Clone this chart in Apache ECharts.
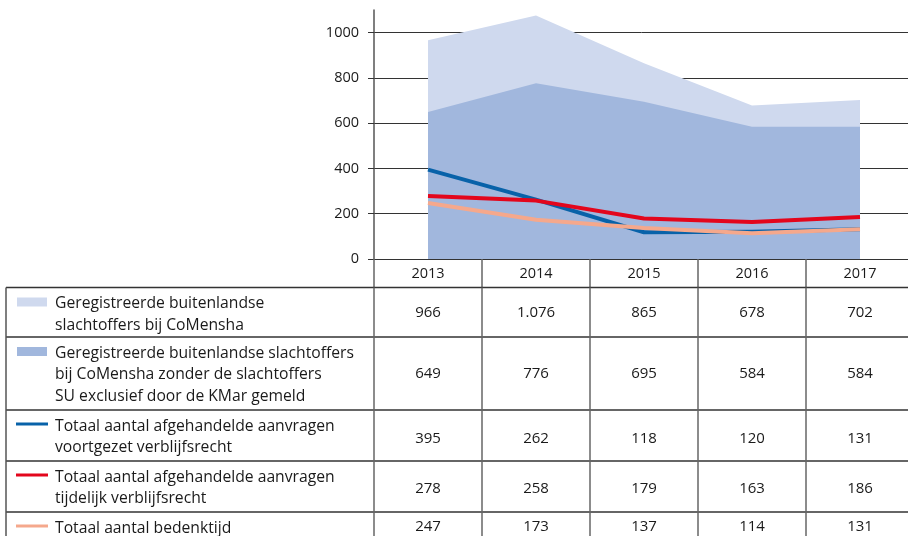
<!DOCTYPE html>
<html><head><meta charset="utf-8">
<script src="https://cdn.jsdelivr.net/npm/echarts@6/dist/echarts.min.js"></script>
<style>html,body{margin:0;padding:0;background:#fff}#c{width:908px;height:536px}</style>
</head><body><div id="c"></div>
<script>
// ---- data ----
const years = ['2013', '2014', '2015', '2016', '2017'];
const yTicks = [0, 200, 400, 600, 800, 1000];
const registered = [966, 1076, 865, 678, 702];
const registeredExclKMar = [649, 776, 695, 584, 584];
const continuedResidence = [395, 262, 118, 120, 131];
const temporaryResidence = [278, 258, 179, 163, 186];
const reflectionPeriod = [247, 173, 137, 114, 131];
const seriesLabels = [
  'Geregistreerde buitenlandse\nslachtoffers bij CoMensha',
  'Geregistreerde buitenlandse slachtoffers\nbij CoMensha zonder de slachtoffers\nSU exclusief door de KMar gemeld',
  'Totaal aantal afgehandelde aanvragen\nvoortgezet verblijfsrecht',
  'Totaal aantal afgehandelde aanvragen\ntijdelijk verblijfsrecht',
  'Totaal aantal bedenktijd'
];

// ---- style ----
const FONT = 'Open Sans';
const TXT = '#1a1a1a';
const C_LIGHT = '#cfd9ee', C_AREA = '#a1b7dd', C_BLUE = '#0862a9', C_RED = '#e3061c', C_SALMON = '#f5a88c';
const colors = [C_LIGHT, C_AREA, C_BLUE, C_RED, C_SALMON];
const kinds = ['area', 'area', 'line', 'line', 'line'];
const allSeries = [registered, registeredExclKMar, continuedResidence, temporaryResidence, reflectionPeriod];
// table layout (pixels)
const rowTops = [287.5, 337, 410, 461, 512];
const valueY = [313, 374, 439, 489, 527];
const tableLeft = 6;

function fmt(n) {
  return n >= 1000 ? Math.floor(n / 1000) + '.' + String(n % 1000).padStart(3, '0') : String(n);
}

const chart = echarts.init(document.getElementById('c'), null, { renderer: 'canvas' });

const series = allSeries.map((d, i) => kinds[i] === 'area' ? {
  name: seriesLabels[i], type: 'line', data: d, symbol: 'none', silent: true,
  lineStyle: { width: 0, opacity: 0 }, areaStyle: { color: colors[i], opacity: 1 }, z: 2 + i
} : {
  name: seriesLabels[i], type: 'line', data: d, symbol: 'none', silent: true,
  lineStyle: { width: 4, color: colors[i], cap: 'butt', join: 'round' }, z: 2 + i
});

chart.setOption({
  animation: false,
  backgroundColor: '#fff',
  textStyle: { fontFamily: FONT },
  grid: { left: 374, width: 540, top: 10, bottom: 277, containLabel: false, outerBoundsMode: 'none' },
  xAxis: {
    type: 'category', data: years, boundaryGap: true,
    axisLine: { show: true, lineStyle: { color: '#333', width: 1 } },
    axisTick: { show: true, inside: false, length: 29, lineStyle: { color: '#666', width: 1.5 } },
    axisLabel: { color: TXT, fontSize: 14.5, fontFamily: FONT, margin: 7 },
    splitLine: { show: false }
  },
  yAxis: {
    type: 'value', min: 0, max: 1100, interval: 200,
    axisLine: { show: true, lineStyle: { color: '#555', width: 1.5 } },
    axisTick: { show: true, length: 6, customValues: yTicks, lineStyle: { color: '#333' } },
    axisLabel: { color: TXT, fontSize: 14.5, fontFamily: FONT, margin: 15, customValues: yTicks, formatter: v => String(v) },
    splitLine: { show: true, lineStyle: { color: '#333', width: 1 } }
  },
  series: series
});

// ---- table drawn below the axis ----
const centers = years.map((y, i) => chart.convertToPixel({ xAxisIndex: 0 }, i));
const band = centers[1] - centers[0];
const bounds = [centers[0] - band / 2].concat(centers.map(c => c + band / 2));
const W = 908, H = 536;
const g = [];
rowTops.forEach(y => {
  g.push({ type: 'line', shape: { x1: tableLeft, y1: y, x2: W, y2: y }, style: { stroke: '#333', lineWidth: 1.3 }, z: 100 });
});
g.push({ type: 'line', shape: { x1: tableLeft, y1: rowTops[0], x2: tableLeft, y2: H }, style: { stroke: '#555', lineWidth: 1.5 }, z: 100 });
bounds.forEach(x => {
  g.push({ type: 'line', shape: { x1: x, y1: rowTops[0], x2: x, y2: H }, style: { stroke: '#666', lineWidth: 1.5 }, z: 100 });
});
seriesLabels.forEach((lab, r) => {
  const top = rowTops[r];
  const firstLineY = top + 15;
  if (kinds[r] === 'area') {
    g.push({ type: 'rect', shape: { x: 17, y: firstLineY - 5, width: 30, height: 9 }, style: { fill: colors[r] }, z: 100 });
  } else {
    g.push({ type: 'line', shape: { x1: 16, y1: firstLineY - 1, x2: 48, y2: firstLineY - 1 }, style: { stroke: colors[r], lineWidth: 3 }, z: 100 });
  }
  g.push({ type: 'text', x: 55, y: firstLineY - 9.5, z: 100,
    style: { text: lab, fill: TXT, font: '15.7px "' + FONT + '"', lineHeight: 21.5, verticalAlign: 'top', align: 'left' } });
  allSeries[r].forEach((v, c) => {
    g.push({ type: 'text', x: centers[c], y: valueY[r], z: 100,
      style: { text: fmt(v), fill: TXT, font: '15px "' + FONT + '"', align: 'center', verticalAlign: 'middle' } });
  });
});
chart.setOption({ graphic: { elements: g } });
</script>
</body></html>
